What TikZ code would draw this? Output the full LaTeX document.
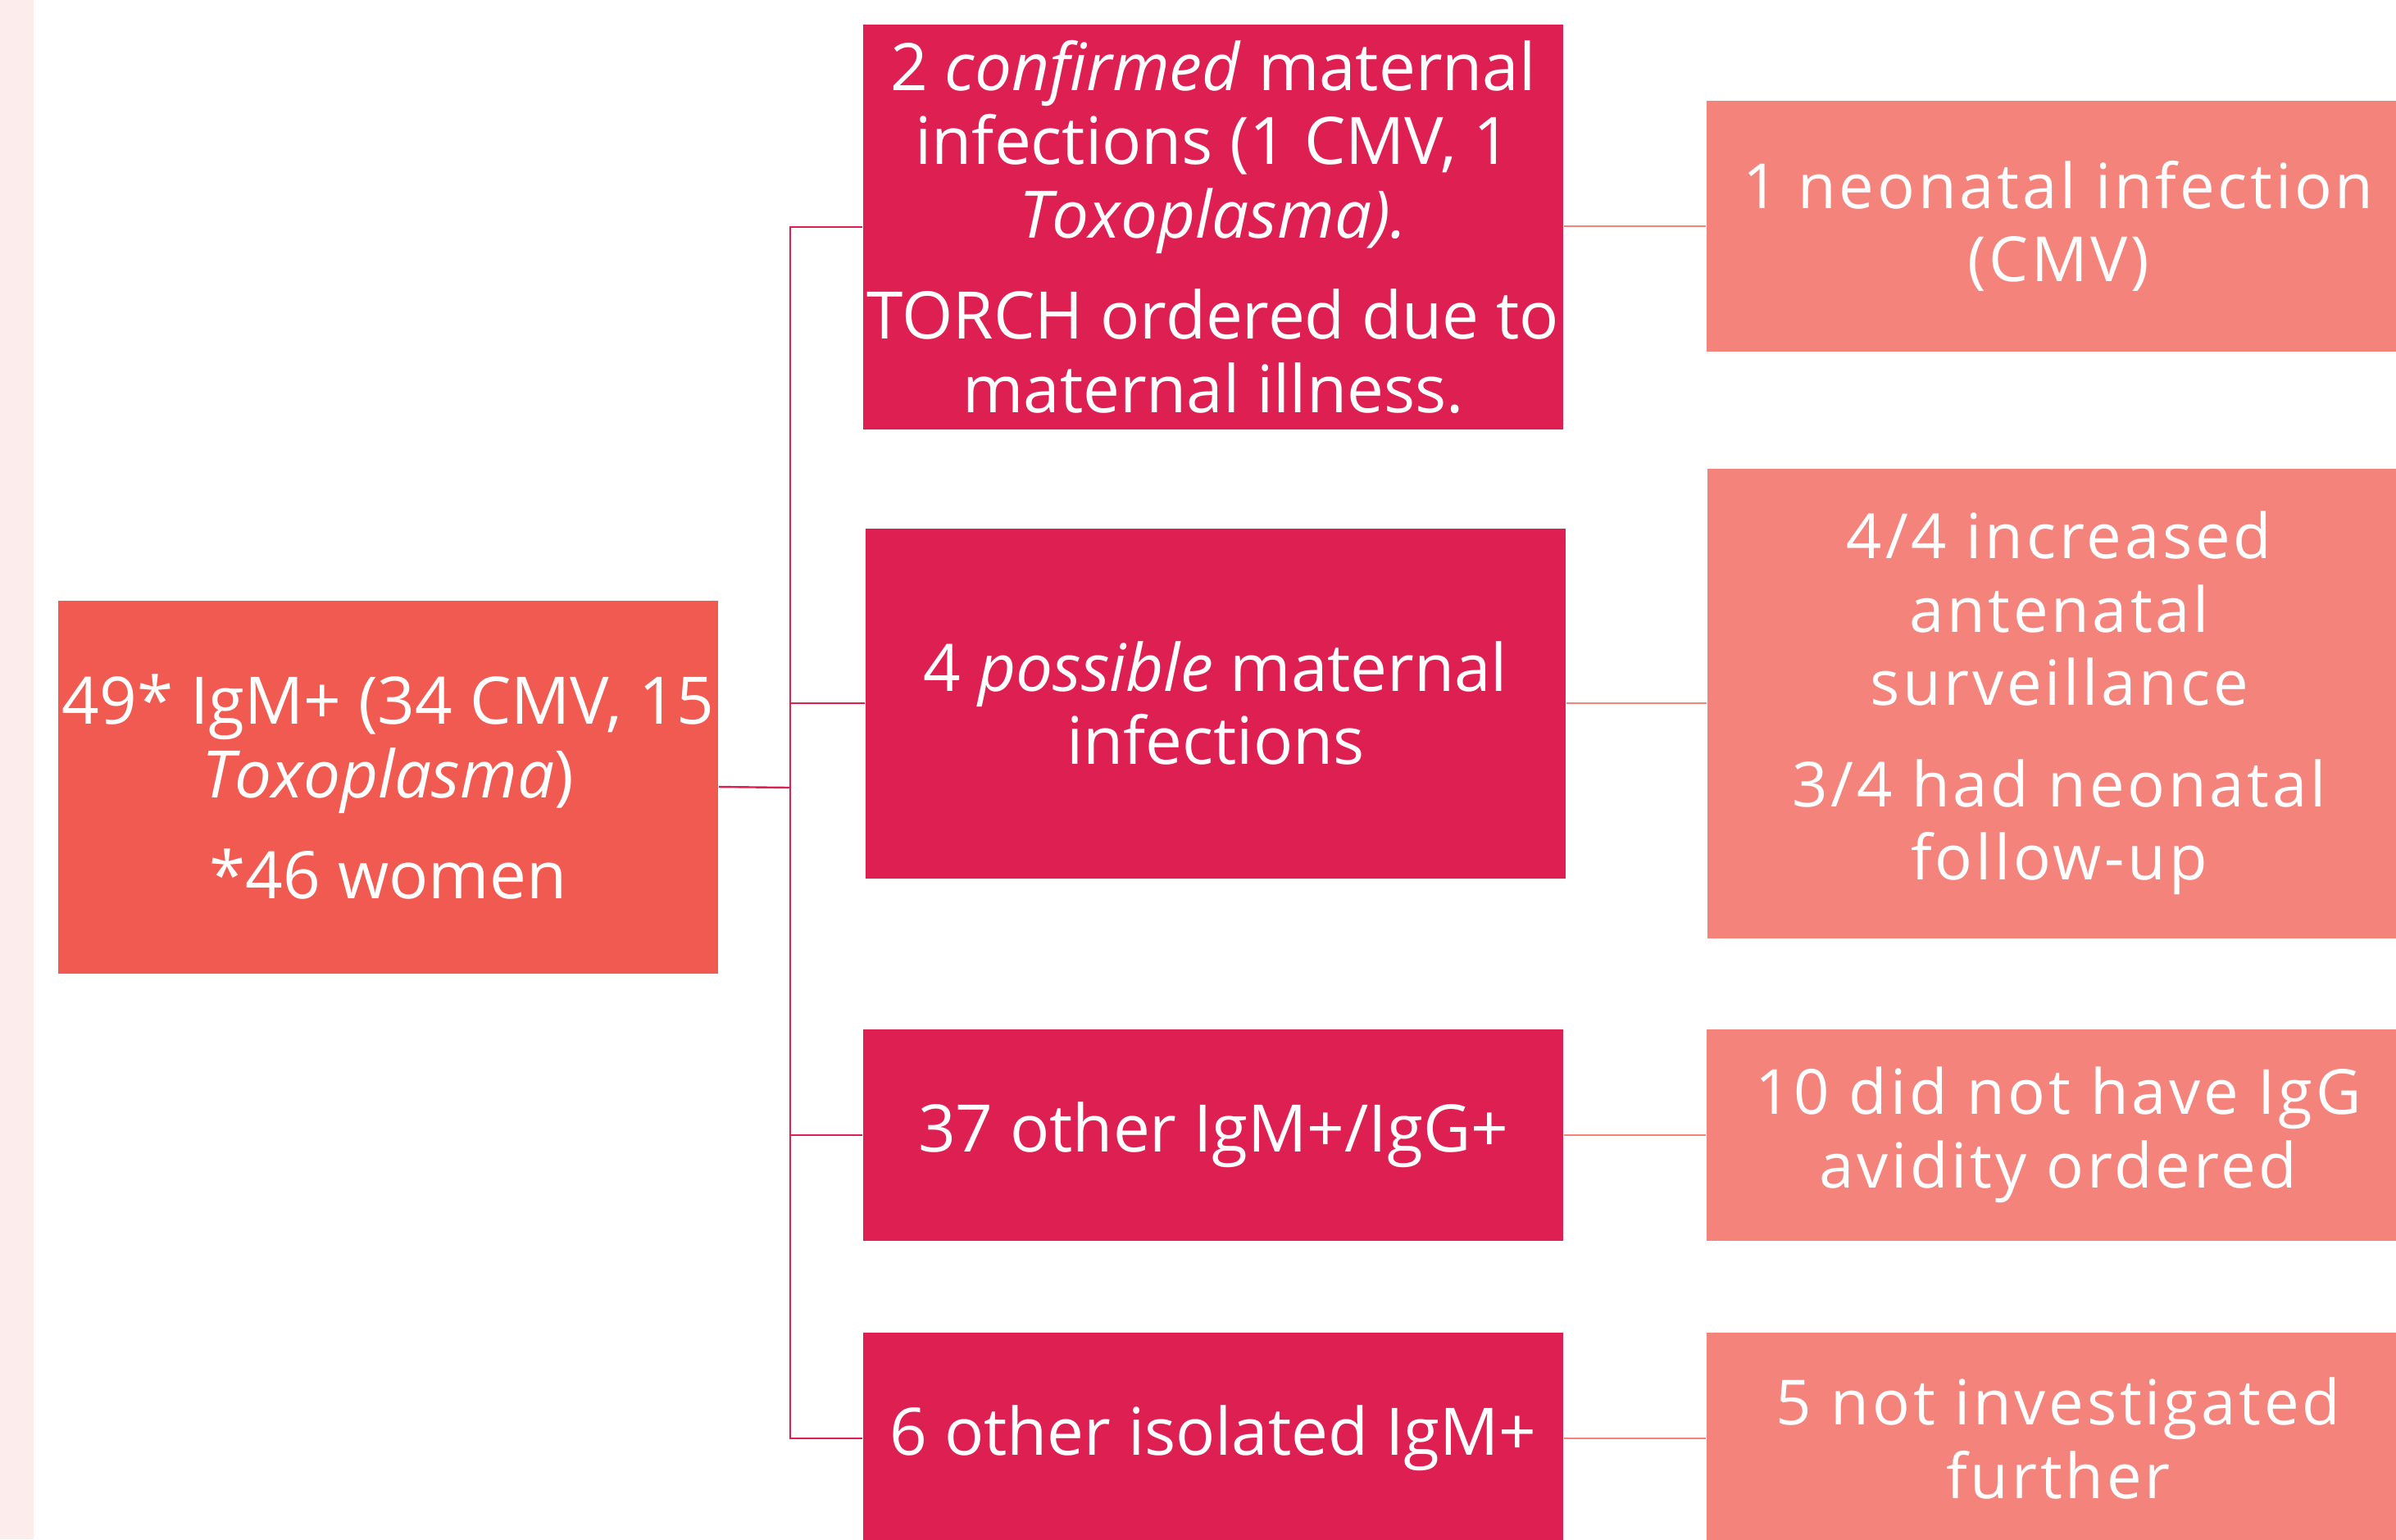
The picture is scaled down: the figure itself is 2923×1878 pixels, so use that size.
\documentclass[tikz,border=0pt]{standalone}
\usepackage{fontspec}
\setmainfont{Open Sans}
\newfontfamily\spaced[LetterSpace=5]{Open Sans}
\definecolor{strip}{HTML}{FCECEC}
\definecolor{rootc}{HTML}{F05A50}
\definecolor{midc}{HTML}{DE1F52}
\definecolor{rightc}{HTML}{F3837B}
\tikzset{
  box/.style={rectangle, inner sep=0pt, text=white, align=center, font=\fontsize{20}{22.4}\selectfont},
  rootbox/.style={box, fill=rootc},
  midbox/.style={box, fill=midc, minimum width=213.5pt},
  rbox/.style={box, fill=rightc, minimum width=214.5pt, font=\fontsize{19}{22.4}\selectfont\spaced},
  lconn/.style={draw=midc, line width=0.6pt},
  rconn/.style={draw=rightc, line width=0.6pt}
}
\begin{document}
\begin{tikzpicture}[x=0.25pt,y=-0.25pt]
\useasboundingbox (0,0) rectangle (2923,1878);
\clip (0,0) rectangle (2923,1878);
\fill[strip] (0,0) rectangle (41,1878);
% root
\node[rootbox, minimum width=201.25pt, minimum height=113.75pt] (root) at (473.5,960)
  {49* IgM+ (34 CMV, 15\\ \emph{Toxoplasma})\\[8.5pt] *46 women};
% middle column
\node[midbox, minimum height=123.5pt] (a) at (1480,277)
  {2 \emph{confirmed} maternal\\ infections (1 CMV, 1\\ \emph{Toxoplasma).}\\[8.5pt] TORCH ordered due to\\ maternal illness.};
\node[midbox, minimum height=106.75pt] (b) at (1483,858)
  {4 \emph{possible} maternal\\ infections};
\node[midbox, minimum height=64.5pt] (c) at (1480,1385)
  {37 other IgM+/IgG+};
\node[midbox, minimum height=64.5pt] (d) at (1480,1755)
  {6 other isolated IgM+};
% right column
\node[rbox, minimum height=76.5pt] (e) at (2511,276)
  {1 neonatal infection\\ (CMV)};
\node[rbox, minimum height=143.25pt] (f) at (2512,858)
  {4/4 increased\\ antenatal\\ surveillance\\[8.5pt] 3/4 had neonatal\\ follow-up};
\node[rbox, minimum height=64.5pt] (g) at (2511,1385)
  {10 did not have IgG\\ avidity ordered};
\node[rbox, minimum height=64.5pt] (h) at (2511,1755)
  {5 not investigated\\ further};
% connectors
\coordinate (trunk) at (964,961);
\draw[lconn] (root.east) -- (trunk);
\draw[lconn] (trunk) |- (a.west);
\draw[lconn] (trunk) |- (b.west);
\draw[lconn] (trunk) |- (c.west);
\draw[lconn] (trunk) |- (d.west);
\draw[rconn] (a.east |- e.west) -- (e.west);
\draw[rconn] (b.east) -- (f.west);
\draw[rconn] (c.east) -- (g.west);
\draw[rconn] (d.east) -- (h.west);
\end{tikzpicture}
\end{document}
